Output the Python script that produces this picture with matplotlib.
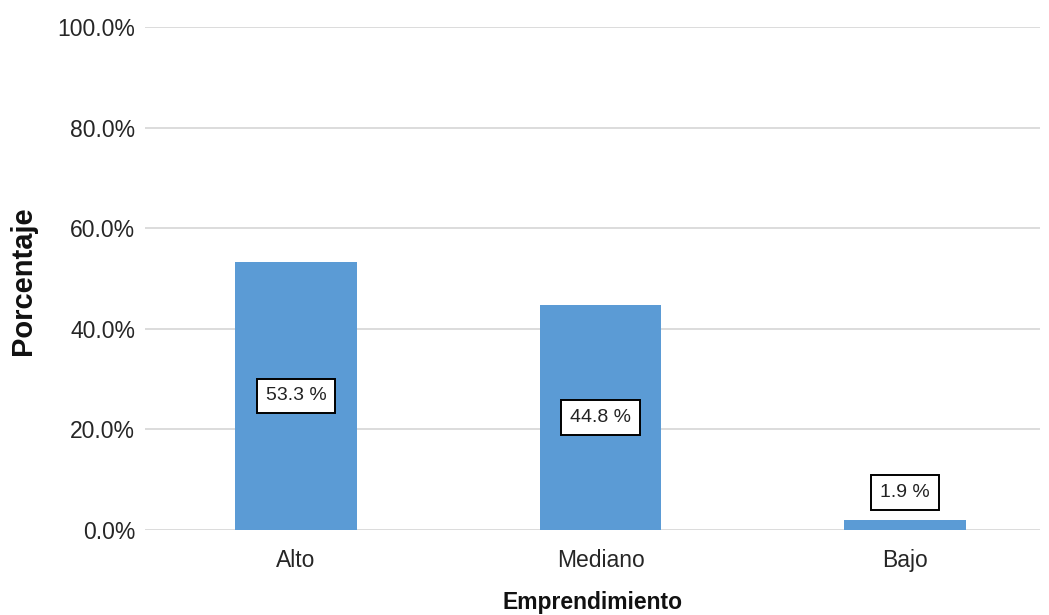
import numpy as np
import matplotlib.pyplot as plt
from matplotlib.ticker import FuncFormatter

plt.rcParams['font.family'] = ['Liberation Sans', 'DejaVu Sans']

categorias = ['Alto', 'Mediano', 'Bajo']
porcentajes = [53.3, 44.8, 1.9]
ticks_y = [0, 20, 40, 60, 80, 100]

W, H = 1049, 615
fig = plt.figure(figsize=(W / 100, H / 100), dpi=100)
ax = fig.add_axes([145 / W, 1 - 530 / H, 895 / W, 503 / H])

x = np.arange(len(categorias))
ax.bar(x, porcentajes, width=0.4, color='#5b9bd5', zorder=3)

# etiquetas: dentro de la barra (al centro) o encima si la barra es baja
for xi, v in zip(x, porcentajes):
    y = v / 2 if v > 10 else v + 5.6
    ax.text(xi, y, f'{v:.1f} %', ha='center', va='center', fontsize=14, color='#222222', zorder=4,
            bbox=dict(boxstyle='square,pad=0.45', facecolor='white', edgecolor='black', linewidth=1.4))

ax.set_ylim(0, 100)
ax.set_xlim(-0.496, 2.443)
ax.set_yticks(ticks_y)
ax.yaxis.set_major_formatter(FuncFormatter(lambda v, p: f'{v:.1f}%'))
ax.set_xticks(x)
ax.set_xticklabels(categorias)
ax.grid(axis='y', color='#d9d9d9', linewidth=1.3, zorder=0)
for s in ax.spines.values():
    s.set_visible(False)
ax.tick_params(length=0, labelsize=16.5, colors='#262626')
ax.tick_params(axis='y', pad=7)
ax.tick_params(axis='x', pad=14)

fig.text(23 / W, 1 - 281 / H, 'Porcentaje', rotation=90, ha='center', va='center',
         fontsize=21, fontweight='bold', color='#111111')
fig.text((145 + 895 / 2) / W, 1 - 609 / H, 'Emprendimiento', ha='center', va='baseline',
         fontsize=16.5, fontweight='bold', color='#111111')

plt.savefig('out.png', dpi=100)
